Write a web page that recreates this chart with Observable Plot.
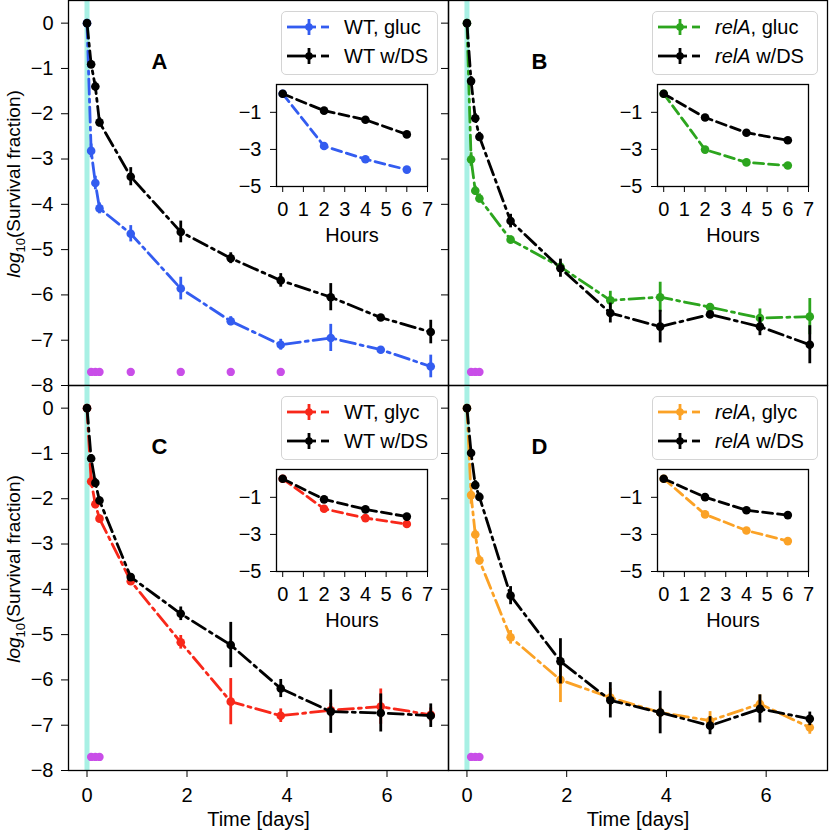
<!DOCTYPE html>
<html><head><meta charset="utf-8">
<script src="https://cdn.jsdelivr.net/npm/d3@7"></script>
<script src="https://cdn.jsdelivr.net/npm/@observablehq/plot@0.6"></script>
<style>
body{margin:0;background:#fff;}
#fig{position:relative;width:830px;height:830px;overflow:hidden;background:#fff;font-family:"Liberation Sans",Arial,sans-serif;}
.pane{position:absolute;}
.pane svg{overflow:visible;}
.legend{position:absolute;border:1px solid #d4d4d4;border-radius:5px;background:rgba(255,255,255,0.85);box-sizing:border-box;}
.legend svg{position:absolute;left:-1px;top:-1px;overflow:visible;}
#ylab{position:absolute;left:0;top:0;pointer-events:none;}
</style></head>
<body><div id="fig"></div>
<script>
// ---- data ----
const days = [0, 0.083, 0.167, 0.25, 0.875, 1.875, 2.875, 3.875, 4.875, 5.875, 6.875];
const hours = [0, 2, 4, 6];
const dayTicks = [0, 2, 4, 6];
const yTicks = [-8, -7, -6, -5, -4, -3, -2, -1, 0];
const insetXTicks = [0, 1, 2, 3, 4, 5, 6, 7];
const insetYTicks = [-1, -3, -5];

// Panel A: WT, glucose vs WT w/DS
const wtGluc    = [0, -2.82, -3.53, -4.09, -4.65, -5.86, -6.58, -7.10, -6.95, -7.21, -7.58];
const wtGlucErr = [0, 0.15, 0.15, 0.12, 0.18, 0.25, 0.10, 0.12, 0.30, 0.05, 0.25];
const wtDsA     = [0, -0.91, -1.40, -2.19, -3.39, -4.61, -5.19, -5.68, -6.05, -6.50, -6.82];
const wtDsAErr  = [0, 0.08, 0.10, 0.10, 0.20, 0.24, 0.12, 0.15, 0.30, 0.05, 0.26];
// Panel B: relA, glucose vs relA w/DS
const relGluc    = [0, -3.01, -3.70, -3.87, -4.78, -5.38, -6.12, -6.05, -6.27, -6.51, -6.48];
const relGlucErr = [0, 0.15, 0.10, 0.10, 0.08, 0.10, 0.20, 0.33, 0.05, 0.20, 0.40];
const relDsB     = [0, -1.28, -2.10, -2.51, -4.37, -5.41, -6.40, -6.70, -6.43, -6.70, -7.10];
const relDsBErr  = [0, 0.10, 0.10, 0.10, 0.15, 0.20, 0.22, 0.36, 0.05, 0.20, 0.42];
// Panel C: WT, glycerol vs WT w/DS
const wtGlyc    = [0, -1.62, -2.12, -2.44, -3.82, -5.17, -6.48, -6.79, -6.67, -6.59, -6.77];
const wtGlycErr = [0, 0.12, 0.10, 0.08, 0.08, 0.15, 0.51, 0.15, 0.15, 0.39, 0.15];
const wtDsC     = [0, -1.11, -1.65, -2.04, -3.73, -4.54, -5.23, -6.19, -6.70, -6.73, -6.79];
const wtDsCErr  = [0, 0.08, 0.10, 0.08, 0.08, 0.15, 0.50, 0.20, 0.48, 0.42, 0.26];
// Panel D: relA, glycerol vs relA w/DS
const relGlyc    = [0, -1.92, -2.79, -3.36, -5.06, -6.00, -6.39, -6.72, -6.90, -6.53, -7.05];
const relGlycErr = [0, 0.20, 0.10, 0.10, 0.15, 0.50, 0.20, 0.10, 0.20, 0.20, 0.15];
const relDsD     = [0, -0.99, -1.70, -1.96, -4.14, -5.59, -6.45, -6.72, -7.01, -6.64, -6.86];
const relDsDErr  = [0, 0.08, 0.10, 0.08, 0.20, 0.50, 0.39, 0.47, 0.20, 0.31, 0.15];

// magenta markers
const markTimesA = [0.083, 0.167, 0.25, 0.875, 1.875, 2.875, 3.875];
const markTimesOther = [0.083, 0.167, 0.25];
const markLevel = -7.7;

const colors = {blue: "#335cf0", green: "#2ca51e", red: "#f8281a", orange: "#fba226", black: "#000000",
  cyan: "#a8f0e4", magenta: "#c94ee8"};
const FONT = "'Liberation Sans', Arial, sans-serif";
const FS = 20;
const LW = 2.8;

const fig = document.getElementById("fig");

function place(node, left, top, cls) {
  const d = document.createElement("div");
  d.className = cls || "pane";
  d.style.left = left + "px"; d.style.top = top + "px";
  d.appendChild(node);
  fig.appendChild(d);
  return d;
}

function rows(vals, errs) {
  return days.map((t, i) => ({t, v: vals[i], lo: vals[i] - errs[i], hi: vals[i] + errs[i]}));
}

function mainPanel(cfg) {
  const c = rows(cfg.cv, cfg.ce), k = rows(cfg.kv, cfg.ke);
  const dash = "15,5,3,5";
  const marks = [
    Plot.ruleX([0], {stroke: colors.cyan, strokeWidth: 5}),
    Plot.line(c, {x: "t", y: "v", stroke: cfg.color, strokeWidth: LW, strokeDasharray: dash}),
    Plot.ruleX(c, {x: "t", y1: "lo", y2: "hi", stroke: cfg.color, strokeWidth: LW}),
    Plot.dot(c, {x: "t", y: "v", r: 4.3, fill: cfg.color}),
    Plot.line(k, {x: "t", y: "v", stroke: "black", strokeWidth: LW, strokeDasharray: dash}),
    Plot.ruleX(k, {x: "t", y1: "lo", y2: "hi", stroke: "black", strokeWidth: LW}),
    Plot.dot(k, {x: "t", y: "v", r: 4.3, fill: "black"}),
    Plot.dot(cfg.marks, {x: d => d, y: () => markLevel, r: 4.2, fill: colors.magenta}),
    Plot.frame({stroke: "black", strokeWidth: 1.3}),
    Plot.text([cfg.letter], {frameAnchor: "top-left", dx: 91, dy: 61, textAnchor: "middle", lineAnchor: "middle",
      fontWeight: "bold", fontSize: 22})
  ];
  if (cfg.showX) {
    marks.push(Plot.text(["Time [days]"], {frameAnchor: "bottom", dy: 49, textAnchor: "middle", lineAnchor: "middle", fontSize: FS}));
  }
  return Plot.plot({
    width: cfg.w, height: cfg.h,
    marginLeft: cfg.ml, marginRight: 0, marginTop: 0, marginBottom: cfg.mb,
    style: {background: "transparent", overflow: "visible", fontSize: FS + "px", fontFamily: FONT, color: "black"},
    x: {domain: [-0.37, 7.23], ticks: dayTicks, tickSize: 7, tickPadding: 10, label: null, axis: cfg.showX ? "bottom" : null},
    y: {domain: [-8, 0.5], ticks: yTicks, tickSize: 7, tickPadding: 8, label: null,
        tickFormat: cfg.showY ? d3.format("") : () => ""},
    marks
  });
}

function insetPanel(cfg) {
  const c = hours.map((h, i) => ({h, v: cfg.cv[i]}));
  const k = hours.map((h, i) => ({h, v: cfg.kv[i]}));
  const dash = "10,5";
  return Plot.plot({
    width: 211, height: 162, marginLeft: 50, marginRight: 10, marginTop: 0, marginBottom: 60,
    style: {background: "transparent", overflow: "visible", fontSize: FS + "px", fontFamily: FONT, color: "black"},
    x: {domain: [-0.3, 7], ticks: insetXTicks, tickSize: 6, tickPadding: 9, label: null},
    y: {domain: [-5, 0.5], ticks: insetYTicks, tickSize: 6, tickPadding: 9, label: null, tickFormat: d3.format("")},
    marks: [
      Plot.frame({fill: "white", stroke: null}),
      Plot.line(c, {x: "h", y: "v", stroke: cfg.color, strokeWidth: LW, strokeDasharray: dash}),
      Plot.dot(c, {x: "h", y: "v", r: 4.3, fill: cfg.color}),
      Plot.line(k, {x: "h", y: "v", stroke: "black", strokeWidth: LW, strokeDasharray: dash}),
      Plot.dot(k, {x: "h", y: "v", r: 4.3, fill: "black"}),
      Plot.frame({stroke: "black", strokeWidth: 1.3}),
      Plot.text(["Hours"], {frameAnchor: "bottom", dy: 49, textAnchor: "middle", lineAnchor: "middle", fontSize: FS})
    ]
  });
}

const NS = "http://www.w3.org/2000/svg";
function legend(left, top, width, color, label1, label2) {
  const box = document.createElement("div");
  box.className = "legend";
  box.style.left = left + "px"; box.style.top = top + "px";
  box.style.width = width + "px"; box.style.height = "64px";
  const svg = document.createElementNS(NS, "svg");
  svg.setAttribute("width", width); svg.setAttribute("height", 64);
  const entries = [[color, label1, 16], ["black", label2, 45]];
  let html = "";
  for (const [col, lab, y] of entries) {
    html += `<line x1="6" x2="35" y1="${y}" y2="${y}" stroke="${col}" stroke-width="${LW}"/>`;
    html += `<line x1="40" x2="48" y1="${y}" y2="${y}" stroke="${col}" stroke-width="${LW}"/>`;
    html += `<line x1="28" x2="28" y1="${y-8}" y2="${y+8}" stroke="${col}" stroke-width="${LW}"/>`;
    html += `<circle cx="28" cy="${y}" r="3.8" fill="${col}"/>`;
    html += `<text x="63" y="${y}" dy="0.35em" font-size="${FS}" font-family="${FONT.replace(/'/g, "")}" fill="black">${lab}</text>`;
  }
  svg.innerHTML = html;
  box.appendChild(svg);
  fig.appendChild(box);
}

// ---- panels ----
place(mainPanel({w: 448, h: 385, ml: 68, mb: 0, cv: wtGluc, ce: wtGlucErr, kv: wtDsA, ke: wtDsAErr,
  color: colors.blue, marks: markTimesA, letter: "A", showX: false, showY: true}), 0, 0);
place(mainPanel({w: 379, h: 385, ml: 0, mb: 0, cv: relGluc, ce: relGlucErr, kv: relDsB, ke: relDsBErr,
  color: colors.green, marks: markTimesOther, letter: "B", showX: false, showY: false}), 448, 0);
place(mainPanel({w: 448, h: 445, ml: 68, mb: 60, cv: wtGlyc, ce: wtGlycErr, kv: wtDsC, ke: wtDsCErr,
  color: colors.red, marks: markTimesOther, letter: "C", showX: true, showY: true}), 0, 385);
place(mainPanel({w: 379, h: 445, ml: 0, mb: 60, cv: relGlyc, ce: relGlycErr, kv: relDsD, ke: relDsDErr,
  color: colors.orange, marks: markTimesOther, letter: "D", showX: true, showY: false}), 448, 385);

// ---- insets ----
place(insetPanel({cv: wtGluc, kv: wtDsA, color: colors.blue}), 226, 84);
place(insetPanel({cv: relGluc, kv: relDsB, color: colors.green}), 607, 84);
place(insetPanel({cv: wtGlyc, kv: wtDsC, color: colors.red}), 226, 469);
place(insetPanel({cv: relGlyc, kv: relDsD, color: colors.orange}), 607, 469);

// ---- legends ----
legend(281, 11, 157, colors.blue, "WT, gluc", "WT w/DS");
legend(652, 11, 166, colors.green, "<tspan font-style=\"italic\">relA</tspan>, gluc", "<tspan font-style=\"italic\">relA</tspan> w/DS");
legend(281, 396, 157, colors.red, "WT, glyc", "WT w/DS");
legend(652, 396, 166, colors.orange, "<tspan font-style=\"italic\">relA</tspan>, glyc", "<tspan font-style=\"italic\">relA</tspan> w/DS");

// ---- y labels ----
const ylab = document.createElementNS(NS, "svg");
ylab.id = "ylab";
ylab.setAttribute("width", 830); ylab.setAttribute("height", 830);
let yl = "";
for (const cy of [184, 569]) {
  yl += `<text transform="translate(20,${cy}) rotate(-90)" text-anchor="middle" font-size="19" font-family="Liberation Sans, Arial, sans-serif" fill="black"><tspan font-style="italic">log</tspan><tspan font-size="13" dy="5">10</tspan><tspan dy="-5">(Survival fraction)</tspan></text>`;
}
ylab.innerHTML = yl;
fig.appendChild(ylab);
</script>
</body></html>
